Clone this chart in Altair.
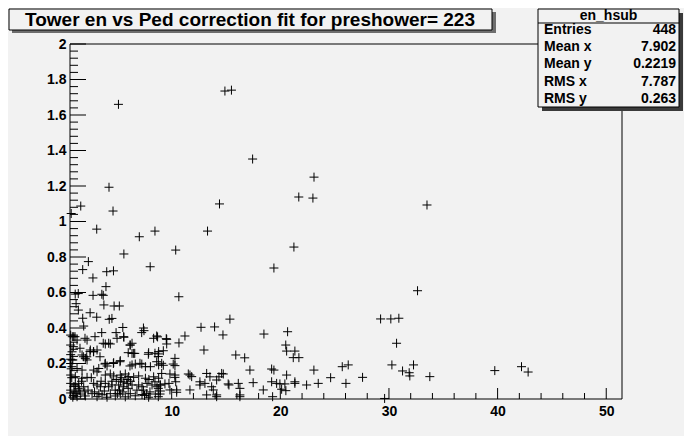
import altair as alt
import pandas as pd

TITLE = "Tower en vs Ped correction fit for preshower= 223"
STATS_NAME = "en_hsub"
stat_labels = ["Entries", "Mean x", "Mean y", "RMS x", "RMS y"]
stat_values = ["448", "7.902", "0.2219", "7.787", "0.263"]

x_vals = [
    5.1, 14.9, 15.5, 17.45, 23.1, 21.7, 23.0, 14.4, 33.5, 13.3, 21.25, 4.23, 1.63, 0.75, 4.6, 3.1, 7.02, 8.46, 5.6, 10.37,
    2.33, 1.81, 4.02, 4.64, 8.02, 2.75, 3.95, 1.12, 1.4, 2.76, 3.57, 3.7, 10.66, 19.41, 32.63, 29.23, 30.17, 30.91,
    1.2, 1.41, 2.49, 3.1, 3.76, 4.7, 5.18, 1.81, 4.25, 4.5, 15.36, 5.5, 7.4, 7.45, 12.7, 13.95, 14.72, 0.85, 1.1, 2.02,
    2.94, 3.56, 4.88, 5.6, 8.62, 8.7, 9.5, 11.22, 7.24, 10.67, 3.7, 4.2, 6.16, 0.95, 1.56, 2.48, 2.8, 6.0, 6.6, 7.85,
    8.77, 12.97, 15.9, 16.72, 1.87, 2.18, 3.4, 10.3, 0.9, 0.7,
    7.08, 7.25, 8.62, 5.24, 4.63, 3.86, 6.16, 9.23, 10.3, 17.2, 17.5, 14.75, 14.14, 13.22, 13.52, 12.6, 13.06, 11.68,
    11.84, 15.2, 16.13, 16.28, 11.68, 10.46, 10.46, 14.14, 16.28,
    18.49, 20.67, 30.7, 20.5, 20.58, 21.34, 21.19, 21.71, 19.2, 19.41, 23.09, 25.7, 26.25, 30.27, 32.26, 31.25, 31.86,
    31.92, 33.76, 39.74, 42.2, 42.81, 20.58, 19.2, 19.66, 19.96, 20.42, 21.34, 21.34, 22.42, 23.49, 24.63, 26.04, 27.57,
    18.43, 20.12, 20.51, 19.29, 29.6,
    9.54, 9.54, 8.46, 8.77, 9.23, 10.14, 9.08, 9.08, 9.84, 10.3, 11.53, 14.6, 14.35, 8.46, 8.93, 9.38, 9.75, 10.3, 10.37,
    12.6, 13.68, 13.83, 15.27, 9.84, 8.77, 8.77, 8.93, 13.22, 14.14, 16.28,
    1.9, 0.98, 0.7, 1.29, 2.21, 4.97, 5.58, 3.89, 4.35, 6.19, 6.35, 8.34, 0.7, 0.83, 2.51, 2.82, 3.13, 1.75, 6.35, 6.5,
    7.88, 8.8, 2.05, 2.21, 0.83, 0.7, 4.66, 5.27, 3.89, 4.05, 6.35, 6.65, 7.58, 8.04, 8.8, 0.83, 1.29, 1.75, 2.82, 3.13,
    3.29, 3.89, 4.35, 4.66, 5.27, 5.73, 6.04, 6.5, 6.96, 7.58, 8.34, 8.8, 0.7, 1.13, 1.75, 2.21, 0.7, 1.13, 1.44, 1.9,
    2.82, 3.13, 3.44, 3.89, 4.2, 4.5, 5.12, 5.58, 5.88, 6.35, 6.96, 7.27, 7.73, 8.19, 8.65, 8.96,
    0.7, 0.98, 1.29, 1.59, 2.05, 2.67, 3.13, 3.59, 4.05, 4.35, 4.81, 5.27, 5.73, 6.19, 6.65, 7.27, 7.88, 8.49, 8.96,
    0.7, 0.75, 0.7, 1.5, 1.1, 5.3, 5.6, 5.9, 7.5, 7.7, 2.3, 4.5, 6.8, 3.8, 5.2, 1.7, 2.6, 3.5,
    0.9, 1.2, 1.4, 1.0, 2.0, 0.8, 4.8, 5.0, 5.5, 6.0, 4.9, 5.4, 6.2, 7.4, 8.0, 7.9, 2.9, 3.3,
]
y_vals = [
    1.66, 1.735, 1.74, 1.352, 1.25, 1.138, 1.132, 1.099, 1.093, 0.946, 0.856, 1.193, 1.087, 1.045, 1.059, 0.957, 0.914, 0.946, 0.817, 0.839,
    0.774, 0.729, 0.717, 0.722, 0.745, 0.682, 0.633, 0.591, 0.594, 0.584, 0.59, 0.584, 0.576, 0.738, 0.61, 0.451, 0.451, 0.455,
    0.537, 0.501, 0.486, 0.461, 0.53, 0.524, 0.524, 0.455, 0.449, 0.454, 0.45, 0.403, 0.4, 0.385, 0.404, 0.406, 0.361, 0.351, 0.351, 0.342,
    0.351, 0.374, 0.374, 0.348, 0.355, 0.35, 0.34, 0.355, 0.374, 0.316, 0.314, 0.314, 0.304, 0.295, 0.286, 0.267, 0.267, 0.261, 0.257, 0.252,
    0.254, 0.276, 0.248, 0.232, 0.238, 0.238, 0.238, 0.229, 0.22, 0.2,
    0.201, 0.197, 0.21, 0.21, 0.2, 0.197, 0.186, 0.19, 0.188, 0.163, 0.092, 0.141, 0.107, 0.144, 0.125, 0.097, 0.088, 0.135,
    0.126, 0.085, 0.088, 0.06, 0.051, 0.051, 0.038, 0.023, 0.023,
    0.366, 0.379, 0.314, 0.304, 0.27, 0.27, 0.233, 0.233, 0.169, 0.163, 0.163, 0.182, 0.192, 0.192, 0.192, 0.158, 0.148,
    0.13, 0.126, 0.16, 0.182, 0.152, 0.135, 0.097, 0.088, 0.085, 0.085, 0.097, 0.088, 0.079, 0.088, 0.12, 0.088, 0.122,
    0.051, 0.055, 0.047, 0.013, 0.003,
    0.336, 0.31, 0.258, 0.239, 0.272, 0.197, 0.201, 0.144, 0.141, 0.135, 0.141, 0.144, 0.125, 0.097, 0.079, 0.085, 0.088, 0.122, 0.097,
    0.079, 0.069, 0.051, 0.079, 0.051, 0.06, 0.013, 0.028, 0.023, 0.013, 0.013,
    0.411, 0.351, 0.36, 0.332, 0.332, 0.342, 0.351, 0.31, 0.31, 0.304, 0.314, 0.342, 0.304, 0.266, 0.276, 0.266, 0.276, 0.248, 0.257, 0.257,
    0.261, 0.267, 0.229, 0.22, 0.22, 0.224, 0.205, 0.216, 0.201, 0.186, 0.192, 0.197, 0.182, 0.182, 0.192, 0.182, 0.172, 0.163, 0.163, 0.153,
    0.172, 0.135, 0.141, 0.13, 0.135, 0.141, 0.126, 0.122, 0.13, 0.117, 0.125, 0.117, 0.135, 0.126, 0.117, 0.122, 0.088, 0.079, 0.088, 0.069,
    0.088, 0.079, 0.069, 0.088, 0.069, 0.079, 0.079, 0.069, 0.088, 0.079, 0.079, 0.069, 0.088, 0.079, 0.069, 0.079,
    0.034, 0.02, 0.013, 0.028, 0.017, 0.03, 0.013, 0.024, 0.01, 0.03, 0.017, 0.028, 0.012, 0.03, 0.018, 0.025, 0.01, 0.028, 0.045,
    0.25, 0.17, 0.05, 0.05, 0.04, 0.1, 0.095, 0.11, 0.02, 0.03, 0.05, 0.1, 0.05, 0.045, 0.05, 0.1, 0.12, 0.1,
    0.01, 0.03, 0.06, 0.07, 0.04, 0.12, 0.05, 0.03, 0.04, 0.06, 0.11, 0.12, 0.1, 0.05, 0.04, 0.11, 0.04, 0.03,
]

x_major = [10, 20, 30, 40, 50]
x_minor = [2, 4, 6, 8, 12, 14, 16, 18, 22, 24, 26, 28, 32, 34, 36, 38, 42, 44, 46, 48]
y_major = [0, 0.2, 0.4, 0.6, 0.8, 1, 1.2, 1.4, 1.6, 1.8, 2]
y_minor = [0.04, 0.08, 0.12, 0.16, 0.24, 0.28, 0.32, 0.36, 0.44, 0.48, 0.52, 0.56, 0.64, 0.68, 0.72, 0.76,
           0.84, 0.88, 0.92, 0.96, 1.04, 1.08, 1.12, 1.16, 1.24, 1.28, 1.32, 1.36, 1.44, 1.48, 1.52, 1.56,
           1.64, 1.68, 1.72, 1.76, 1.84, 1.88, 1.92, 1.96]
X_DOMAIN = [0.64, 51.45]
Y_DOMAIN = [0, 2]

W, H = 552, 355
BG = "#f2f2f2"
FONT = "Liberation Sans"

xs = alt.Scale(domain=X_DOMAIN, nice=False, zero=False)
ys = alt.Scale(domain=Y_DOMAIN, nice=False, zero=False)

df = pd.DataFrame({"x": x_vals, "y": y_vals})

axis_common = dict(ticks=False, domain=False, grid=False, labelFont=FONT, labelFontSize=14,
                   labelFontWeight="bold", labelColor="black", labelFlush=False, labelOverlap=False, title=None)
x_axis = alt.Axis(values=x_major, labelPadding=5, **axis_common)
y_axis = alt.Axis(values=y_major, format="~g", labelPadding=4, **axis_common)

points = alt.Chart(df).mark_point(
    shape="M-1,0L1,0M0,-1L0,1", size=81, filled=False, color="black", strokeWidth=1, opacity=1
).encode(
    x=alt.X("x:Q", scale=xs, axis=x_axis),
    y=alt.Y("y:Q", scale=ys, axis=y_axis),
)

def xticks(vals, length):
    return alt.Chart(pd.DataFrame({"x": vals})).mark_rule(color="black", strokeWidth=1).encode(
        x=alt.X("x:Q", scale=xs, axis=x_axis), y=alt.value(H), y2=alt.value(H - length))

def yticks(vals, length):
    return alt.Chart(pd.DataFrame({"y": vals})).mark_rule(color="black", strokeWidth=1).encode(
        y=alt.Y("y:Q", scale=ys, axis=y_axis), x=alt.value(0), x2=alt.value(length))

one = pd.DataFrame({"t": [TITLE]})

def rule(x, x2, y, y2, color="black", w=1):
    return alt.Chart(one).mark_rule(color=color, strokeWidth=w).encode(
        x=alt.value(x), x2=alt.value(x2), y=alt.value(y), y2=alt.value(y2))

def box(x, x2, y, y2, fill, stroke=None):
    kw = dict(fill=fill)
    if stroke:
        kw.update(stroke=stroke, strokeWidth=1)
    return alt.Chart(one).mark_rect(**kw).encode(
        x=alt.value(x), x2=alt.value(x2), y=alt.value(y), y2=alt.value(y2))

frame = [rule(0, W, 0, 0), rule(0, W, H, H), rule(0, 0, 0, H), rule(W, W, 0, H)]

# title box (coords relative to plot origin at page 70,44)
title_layers = [
    box(-58, 426, -32, -11, "#6e6e6e"),
    box(-61, 422, -35, -14, BG, "black"),
    alt.Chart(one).mark_text(font=FONT, fontSize=19, fontWeight="bold", color="black",
                             align="center", baseline="middle").encode(
        text="t:N", x=alt.value(180), y=alt.value(-24)),
]

# stats box
SX0, SX1, SY0, SY1 = 468, 609, -35, 63
stats_layers = [
    box(SX0 + 4, SX1 + 4, SY0 + 4, SY1 + 4, "#3a3a3a"),
    box(SX0, SX1, SY0, SY1, BG, "black"),
    rule(SX0, SX1, -21, -21),
    alt.Chart(pd.DataFrame({"t": [STATS_NAME]})).mark_text(
        font=FONT, fontSize=14, fontWeight="bold", color="black", align="center", baseline="middle").encode(
        text="t:N", x=alt.value((SX0 + SX1) / 2), y=alt.value(-28)),
]
row_y = [-14, 3, 20, 38, 55]
for lab, val, yy in zip(stat_labels, stat_values, row_y):
    d = pd.DataFrame({"l": [lab], "v": [val]})
    stats_layers.append(alt.Chart(d).mark_text(font=FONT, fontSize=14, fontWeight="bold", color="black",
                                               align="left", baseline="middle").encode(
        text="l:N", x=alt.value(SX0 + 6), y=alt.value(yy)))
    stats_layers.append(alt.Chart(d).mark_text(font=FONT, fontSize=14, fontWeight="bold", color="black",
                                               align="right", baseline="middle").encode(
        text="v:N", x=alt.value(SX1 - 3), y=alt.value(yy)))

layers = [points, xticks(x_major, 11), xticks(x_minor, 6), yticks(y_major, 16), yticks(y_minor, 8)] \
    + frame + title_layers + stats_layers

chart = alt.layer(*layers).properties(
    width=W, height=H,
    padding={"left": 62, "top": 36, "right": 62, "bottom": 37},
    autosize=alt.AutoSizeParams(type="none"),
    background=BG,
).configure_view(stroke=None, fill=BG)

chart.save("out.html", embed_options={"renderer": "svg", "actions": False})
